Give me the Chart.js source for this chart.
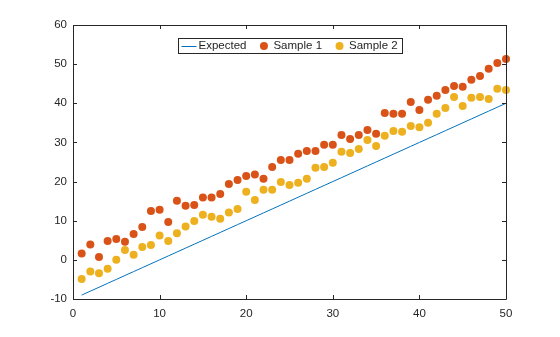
<!DOCTYPE html>
<html>
<head>
<meta charset="utf-8">
<script src="https://cdn.jsdelivr.net/npm/chart.js@4/dist/chart.umd.min.js"></script>
<style>
  html, body { margin: 0; padding: 0; background: #fff; }
  #wrap { width: 560px; height: 337px; }
</style>
</head>
<body>
<div id="wrap"><canvas id="plot" width="560" height="337"></canvas></div>
<script>
// data
const xValues = [1, 2, 3, 4, 5, 6, 7, 8, 9, 10, 11, 12, 13, 14, 15, 16, 17, 18, 19, 20,
    21, 22, 23, 24, 25, 26, 27, 28, 29, 30, 31, 32, 33, 34, 35, 36, 37, 38, 39, 40,
    41, 42, 43, 44, 45, 46, 47, 48, 49, 50];
const expectedValues = [-9, -8, -7, -6, -5, -4, -3, -2, -1, 0, 1, 2, 3, 4, 5, 6, 7, 8, 9, 10,
    11, 12, 13, 14, 15, 16, 17, 18, 19, 20, 21, 22, 23, 24, 25, 26, 27, 28, 29, 30,
    31, 32, 33, 34, 35, 36, 37, 38, 39, 40];
const sample1Values = [1.6, 3.9, 0.7, 4.8, 5.3, 4.6, 6.6, 8.4, 12.5, 12.8, 9.7, 15.1, 13.8, 14.0, 15.9,
    15.9, 16.8, 19.4, 20.4, 21.4, 21.8, 20.7, 23.7, 25.5, 25.5, 27.1, 27.8, 27.8, 29.4, 29.4,
    31.9, 30.9, 31.9, 33.2, 32.2, 37.5, 37.3, 37.3, 40.3, 38.3, 40.9, 41.9, 43.4, 44.4, 44.2,
    46.0, 47.0, 48.8, 50.3, 51.3];
const sample2Values = [-4.9, -3.0, -3.4, -2.3, 0.0, 2.5, 1.3, 3.3, 3.8, 6.2, 4.8, 6.8, 8.5, 9.9, 11.5,
    11.0, 10.5, 12.1, 13.0, 17.4, 15.3, 17.9, 17.9, 19.9, 19.1, 19.7, 20.7, 23.5, 23.7, 24.8,
    27.6, 27.3, 28.3, 30.6, 29.1, 31.7, 32.9, 32.7, 34.2, 33.9, 35.0, 37.3, 38.8, 41.6, 39.3,
    41.4, 41.6, 41.1, 43.7, 43.4];
const seriesLabels = ['Expected', 'Sample 1', 'Sample 2'];
const xTicks = [0, 10, 20, 30, 40, 50];
const yTicks = [-10, 0, 10, 20, 30, 40, 50, 60];

const BLUE = '#0072BD';
const ORANGE = '#D95319';
const YELLOW = '#EDB120';
const AXIS = '#262626';
const FONT = '"Liberation Sans", Arial, Helvetica, sans-serif';

const toPoints = (ys) => xValues.map((x, i) => ({ x: x, y: ys[i] }));

// box around the axes + inward tick marks on all four sides
const axesBox = {
    id: 'axesBox',
    afterDatasetsDraw: (chart) => {
        const { ctx, chartArea: a, scales } = chart;
        const len = 4;
        ctx.save();
        ctx.strokeStyle = AXIS;
        ctx.lineWidth = 1;
        ctx.beginPath();
        ctx.rect(Math.round(a.left) + 0.5, Math.round(a.top) + 0.5,
            Math.round(a.right - a.left), Math.round(a.bottom - a.top));
        xTicks.forEach(v => {
            const px = Math.round(scales.x.getPixelForValue(v)) + 0.5;
            ctx.moveTo(px, a.bottom); ctx.lineTo(px, a.bottom - len);
            ctx.moveTo(px, a.top); ctx.lineTo(px, a.top + len);
        });
        yTicks.forEach(v => {
            const py = Math.round(scales.y.getPixelForValue(v)) + 0.5;
            ctx.moveTo(a.left, py); ctx.lineTo(a.left + len, py);
            ctx.moveTo(a.right, py); ctx.lineTo(a.right - len, py);
        });
        ctx.stroke();
        ctx.restore();
    }
};

// matlab style legend, inside the axes at the top centre
const insideLegend = {
    id: 'insideLegend',
    afterDraw: (chart) => {
        const { ctx, chartArea: a } = chart;
        const iconW = 15, iconGap = 2, itemGap = 10, padL = 3.5, padR = 4;
        const boxH = 15, top = a.top + 13;
        ctx.save();
        ctx.font = '11.5px ' + FONT;
        const widths = seriesLabels.map(t => ctx.measureText(t).width);
        let total = padL + padR;
        widths.forEach((w, i) => { total += iconW + iconGap + w + (i < widths.length - 1 ? itemGap : 0); });
        const left = Math.round((a.left + a.right) / 2 - total / 2);
        ctx.fillStyle = '#fff';
        ctx.fillRect(left, top, total, boxH);
        ctx.strokeStyle = AXIS;
        ctx.lineWidth = 1;
        ctx.strokeRect(left + 0.5, top + 0.5, Math.round(total), boxH);
        const cy = top + boxH / 2 + 0.5;
        let x = left + padL;
        const colors = [BLUE, ORANGE, YELLOW];
        seriesLabels.forEach((t, i) => {
            if (i === 0) {
                ctx.strokeStyle = colors[i];
                ctx.beginPath();
                ctx.moveTo(x, Math.round(cy) + 0.5);
                ctx.lineTo(x + iconW, Math.round(cy) + 0.5);
                ctx.stroke();
            } else {
                ctx.fillStyle = colors[i];
                ctx.beginPath();
                ctx.arc(x + iconW / 2, cy, 4, 0, Math.PI * 2);
                ctx.fill();
            }
            x += iconW + iconGap;
            ctx.fillStyle = AXIS;
            ctx.textBaseline = 'middle';
            ctx.textAlign = 'left';
            ctx.fillText(t, x, cy);
            x += widths[i] + itemGap;
        });
        ctx.restore();
    }
};

new Chart(document.getElementById('plot').getContext('2d'), {
    type: 'scatter',
    data: {
        datasets: [
            {
                label: seriesLabels[0],
                data: toPoints(expectedValues),
                showLine: true,
                borderColor: BLUE,
                borderWidth: 1,
                pointRadius: 0,
                order: 3
            },
            {
                label: seriesLabels[1],
                data: toPoints(sample1Values),
                backgroundColor: ORANGE,
                borderWidth: 0,
                pointRadius: 4,
                clip: false,
                order: 2
            },
            {
                label: seriesLabels[2],
                data: toPoints(sample2Values),
                backgroundColor: YELLOW,
                borderWidth: 0,
                pointRadius: 4,
                clip: false,
                order: 1
            }
        ]
    },
    options: {
        responsive: false,
        animation: false,
        layout: { padding: { left: 0, right: 54, top: 25, bottom: 0 } },
        plugins: {
            legend: { display: false },
            tooltip: { enabled: false }
        },
        scales: {
            x: {
                type: 'linear',
                min: 0,
                max: 50,
                afterBuildTicks: (s) => { s.ticks = xTicks.map(v => ({ value: v })); },
                ticks: { color: AXIS, font: { family: FONT, size: 11.5 }, padding: 8, maxRotation: 0 },
                grid: { display: false, drawTicks: false },
                border: { display: false },
                afterFit: (s) => { s.height = 38; }
            },
            y: {
                type: 'linear',
                min: -10,
                max: 60,
                afterBuildTicks: (s) => { s.ticks = yTicks.map(v => ({ value: v })); },
                ticks: { color: AXIS, font: { family: FONT, size: 11.5 }, padding: 6 },
                grid: { display: false, drawTicks: false },
                border: { display: false },
                afterFit: (s) => { s.width = 73; }
            }
        }
    },
    plugins: [axesBox, insideLegend]
});
</script>
</body>
</html>
